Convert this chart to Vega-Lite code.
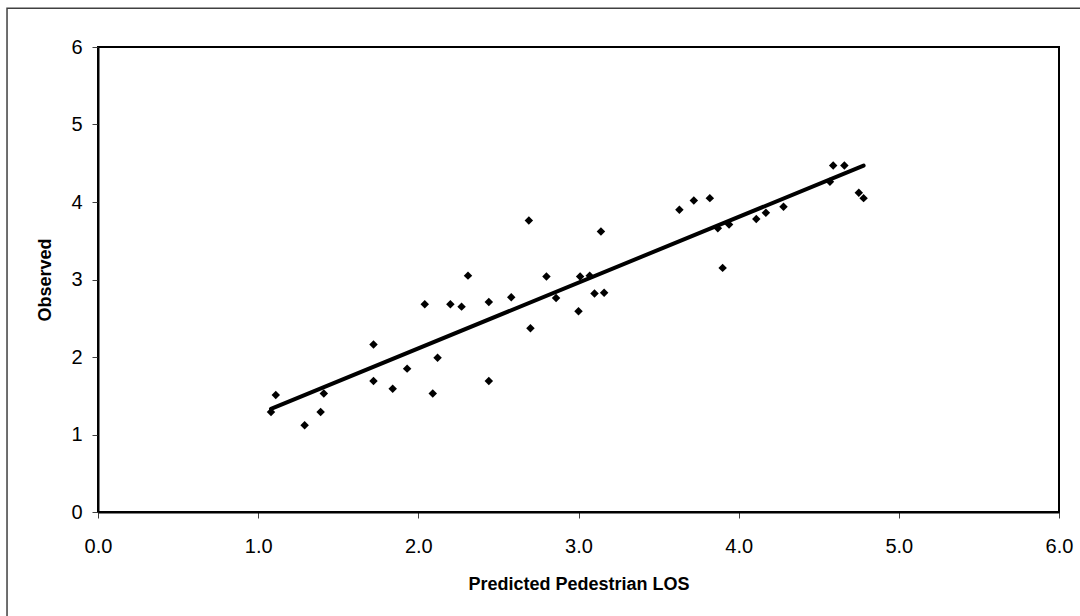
{
  "$schema": "https://vega.github.io/schema/vega-lite/v6.json",
  "autosize": {"type": "none"},
  "width": 961,
  "height": 465,
  "padding": {"left": 98, "top": 47, "right": 21, "bottom": 104},
  "background": "white",
  "config": {
    "font": "Liberation Sans",
    "view": {"stroke": "black", "strokeWidth": 2},
    "axis": {
      "grid": false,
      "domainColor": "black",
      "domainWidth": 2,
      "tickColor": "#404040",
      "tickSize": 6,
      "tickWidth": 1,
      "labelFont": "Liberation Sans",
      "labelFontSize": 20,
      "labelColor": "black",
      "labelFlush": false,
      "labelOverlap": false,
      "titleFont": "Liberation Sans",
      "titleFontSize": 18,
      "titleFontWeight": "bold",
      "titleColor": "black"
    }
  },
  "datasets": {
    "points": [
      {"predicted": 1.08, "observed": 1.29},
      {"predicted": 1.11, "observed": 1.51},
      {"predicted": 1.29, "observed": 1.12},
      {"predicted": 1.39, "observed": 1.29},
      {"predicted": 1.41, "observed": 1.53},
      {"predicted": 1.72, "observed": 2.16},
      {"predicted": 1.72, "observed": 1.69},
      {"predicted": 1.84, "observed": 1.59},
      {"predicted": 1.93, "observed": 1.85},
      {"predicted": 2.04, "observed": 2.68},
      {"predicted": 2.09, "observed": 1.53},
      {"predicted": 2.12, "observed": 1.99},
      {"predicted": 2.20, "observed": 2.68},
      {"predicted": 2.27, "observed": 2.65},
      {"predicted": 2.31, "observed": 3.05},
      {"predicted": 2.44, "observed": 2.71},
      {"predicted": 2.44, "observed": 1.69},
      {"predicted": 2.58, "observed": 2.77},
      {"predicted": 2.69, "observed": 3.76},
      {"predicted": 2.70, "observed": 2.37},
      {"predicted": 2.80, "observed": 3.04},
      {"predicted": 2.86, "observed": 2.76},
      {"predicted": 3.00, "observed": 2.59},
      {"predicted": 3.01, "observed": 3.04},
      {"predicted": 3.07, "observed": 3.05},
      {"predicted": 3.10, "observed": 2.82},
      {"predicted": 3.14, "observed": 3.62},
      {"predicted": 3.16, "observed": 2.83},
      {"predicted": 3.63, "observed": 3.90},
      {"predicted": 3.72, "observed": 4.02},
      {"predicted": 3.82, "observed": 4.05},
      {"predicted": 3.87, "observed": 3.66},
      {"predicted": 3.90, "observed": 3.15},
      {"predicted": 3.94, "observed": 3.71},
      {"predicted": 4.11, "observed": 3.78},
      {"predicted": 4.17, "observed": 3.86},
      {"predicted": 4.28, "observed": 3.94},
      {"predicted": 4.57, "observed": 4.26},
      {"predicted": 4.59, "observed": 4.47},
      {"predicted": 4.66, "observed": 4.47},
      {"predicted": 4.75, "observed": 4.12},
      {"predicted": 4.78, "observed": 4.05}
    ],
    "trend": [
      {"predicted": 1.08, "observed": 1.33},
      {"predicted": 4.78, "observed": 4.47}
    ]
  },
  "layer": [
    {
      "data": {"values": [{}]},
      "mark": {"type": "rect", "fill": null, "stroke": "#404040", "strokeWidth": 1.5, "clip": false},
      "encoding": {
        "x": {"datum": -0.568, "type": "quantitative", "scale": {"domain": [0, 6]}},
        "x2": {"datum": 7.5},
        "y": {"datum": 6.5, "type": "quantitative", "scale": {"domain": [0, 6]}},
        "y2": {"datum": -3}
      }
    },
    {
      "data": {"name": "points"},
      "mark": {"type": "point", "shape": "diamond", "filled": true, "color": "black", "size": 72, "opacity": 1},
      "encoding": {
        "x": {
          "field": "predicted", "type": "quantitative",
          "title": "Predicted Pedestrian LOS",
          "scale": {"domain": [0, 6], "nice": false, "zero": false},
          "axis": {"values": [0, 1, 2, 3, 4, 5, 6], "format": ".1f", "labelPadding": 18, "titlePadding": 19}
        },
        "y": {
          "field": "observed", "type": "quantitative",
          "title": "Observed",
          "scale": {"domain": [0, 6], "nice": false, "zero": false},
          "axis": {"values": [0, 1, 2, 3, 4, 5, 6], "format": "d", "labelPadding": 10, "titlePadding": 16}
        }
      }
    },
    {
      "data": {"name": "trend"},
      "mark": {"type": "line", "color": "black", "strokeWidth": 4, "strokeCap": "round"},
      "encoding": {
        "x": {"field": "predicted", "type": "quantitative"},
        "y": {"field": "observed", "type": "quantitative"}
      }
    }
  ]
}
